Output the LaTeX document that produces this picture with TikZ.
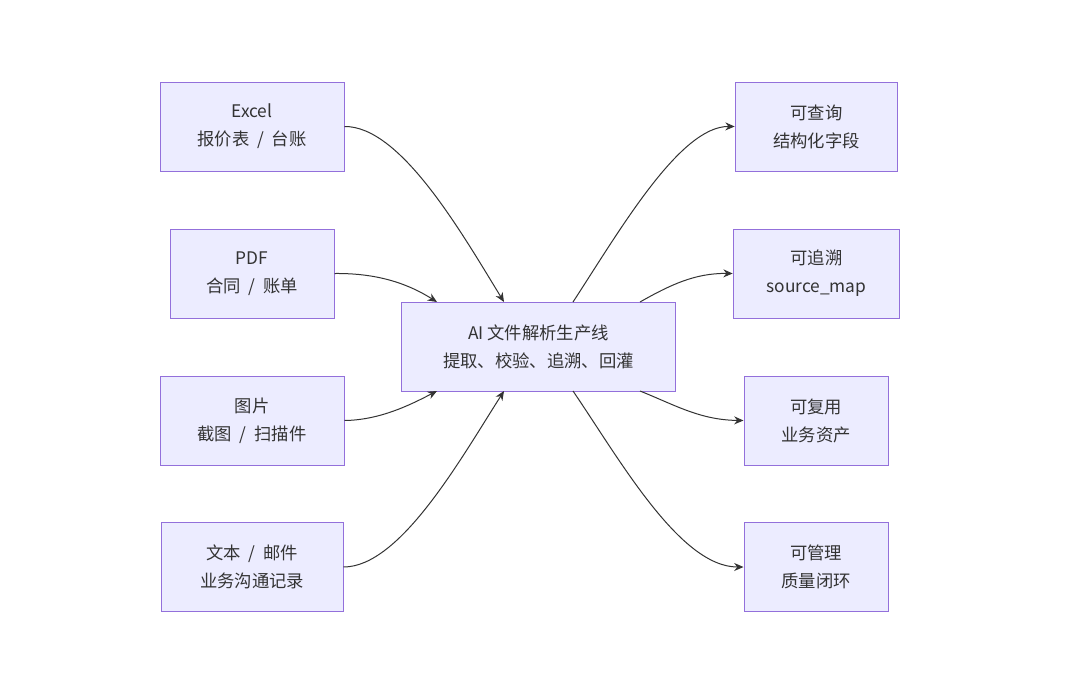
\documentclass[tikz,border=0pt]{standalone}
\usepackage{fontspec}
\setmainfont{Noto Sans CJK SC}
\usetikzlibrary{positioning,calc,arrows.meta}
\definecolor{boxfill}{HTML}{ECECFF}
\definecolor{boxline}{HTML}{9370DB}
\definecolor{ink}{HTML}{333333}
\newcommand{\sep}{\hspace{0.45em}/\hspace{0.45em}}
\begin{document}
\begin{tikzpicture}[x=0.75pt,y=-0.75pt]
    % styles for boxes and links
    \tikzset{
        box/.style={draw=boxline,fill=boxfill,line width=0.75pt,
            minimum height=66.75pt,align=center,text=ink,
            font=\fontsize{13}{21}\selectfont},
        link/.style={draw=ink,line width=0.75pt,-{Stealth[length=7pt,width=6pt]}}
    }
    \useasboundingbox (0,0) rectangle (1080,699);

    % sources
    \node[box,minimum width=138pt] (excel) at (252,126.5) {Excel\\报价表\sep 台账};
    \node[box,minimum width=123pt] (pdf) at (252,273.5) {PDF\\合同\sep 账单};
    \node[box,minimum width=138pt] (img) at (252,420.5) {图片\\截图\sep 扫描件};
    \node[box,minimum width=136.5pt] (txt) at (252,567) {文本\sep 邮件\\业务沟通记录};

    % pipeline
    \node[box,minimum width=206pt] (core) at (538.5,346.5) {AI 文件解析生产线\\提取、校验、追溯、回灌};

    % results
    \node[box,minimum width=122pt] (query) at (816.5,126.5) {可查询\\结构化字段};
    \node[box,minimum width=125pt] (trace) at (816.5,273.5) {可追溯\\source\_map};
    \node[box,minimum width=108pt] (reuse) at (816,420.5) {可复用\\业务资产};
    \node[box,minimum width=108pt] (manage) at (816,567) {可管理\\质量闭环};

    % ports on the pipeline box
    \coordinate (n1) at (504,302);
    \coordinate (n2) at (437,302);
    \coordinate (s1) at (437,391);
    \coordinate (s2) at (504,391);
    \coordinate (n3) at (573,302);
    \coordinate (n4) at (640,302);
    \coordinate (s3) at (640,391);
    \coordinate (s4) at (573,391);

    % links
    \draw[link] (excel.east) .. controls (400,126) and (460,230) .. (n1);
    \draw[link] (pdf.east) .. controls (380,273) and (410,285) .. (n2);
    \draw[link] (img.east) .. controls (380,420) and (410,405) .. (s1);
    \draw[link] (txt.east) .. controls (400,567) and (460,460) .. (s2);
    \draw[link] (n3) .. controls (620,230) and (680,126) .. (query.west);
    \draw[link] (n4) .. controls (670,285) and (695,273) .. (trace.west);
    \draw[link] (s3) .. controls (675,405) and (700,420) .. (reuse.west);
    \draw[link] (s4) .. controls (620,460) and (680,567) .. (manage.west);
\end{tikzpicture}
\end{document}
